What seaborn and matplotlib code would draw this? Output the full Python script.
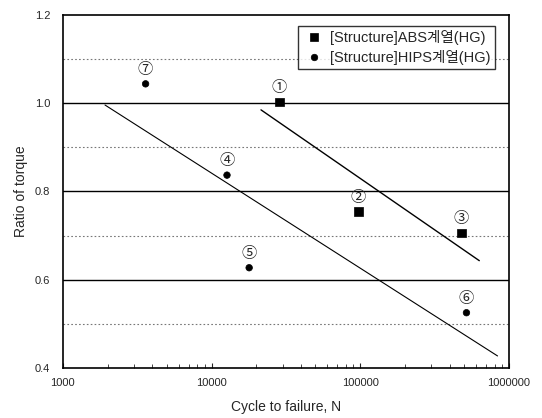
import pandas as pd
import matplotlib.pyplot as plt
import matplotlib.ticker as mticker
import seaborn as sns
import numpy as np

# data
abs_cycles = [28500, 97000, 480000]
abs_ratio = [1.003, 0.754, 0.706]
abs_tags = ["①", "②", "③"]

hips_cycles = [12700, 17900, 518000, 3600]
hips_ratio = [0.837, 0.627, 0.525, 1.044]
hips_tags = ["④", "⑤", "⑥", "⑦"]

# fitted trend lines (end points)
abs_fit_x = [21500, 632000]
abs_fit_y = [0.985, 0.643]
hips_fit_x = [1920, 838000]
hips_fit_y = [0.996, 0.427]

abs_name = "[Structure]ABS계열(HG)"
hips_name = "[Structure]HIPS계열(HG)"

sns.set_style("ticks")
plt.rcParams['font.family'] = ['Liberation Sans', 'Noto Sans CJK KR', 'DejaVu Sans']

df = pd.DataFrame({
    "cycles": abs_cycles + hips_cycles,
    "ratio": abs_ratio + hips_ratio,
    "series": [abs_name] * len(abs_cycles) + [hips_name] * len(hips_cycles),
})

fig = plt.figure(figsize=(5.42, 4.18), dpi=100)
ax = fig.add_axes([0.116, 0.12, 0.823, 0.844])

# grid lines
for y in [0.6, 0.8, 1.0]:
    ax.axhline(y, color="black", lw=1.0, zorder=0)
for y in [0.5, 0.7, 0.9, 1.1]:
    ax.axhline(y, color="#777777", lw=0.8, ls=(0, (1.5, 2)), zorder=0)

sns.lineplot(x=abs_fit_x, y=abs_fit_y, color="black", lw=1.0, ax=ax)
sns.lineplot(x=hips_fit_x, y=hips_fit_y, color="black", lw=0.8, ax=ax)

sns.scatterplot(data=df, x="cycles", y="ratio", hue="series", style="series",
                markers={abs_name: "s", hips_name: "o"},
                palette={abs_name: "black", hips_name: "black"},
                size="series", sizes={abs_name: 40, hips_name: 22},
                edgecolor="black", linewidth=0.5, ax=ax, zorder=3)

for x, y, t in zip(abs_cycles + hips_cycles, abs_ratio + hips_ratio, abs_tags + hips_tags):
    ax.annotate(t, (x, y), xytext=(0, 5), textcoords="offset points",
                ha="center", va="bottom", fontsize=11)

ax.set_xscale("log")
ax.set_xlim(1000, 1000000)
ax.set_ylim(0.4, 1.2)
ax.set_yticks([0.4, 0.6, 0.8, 1.0, 1.2])
ax.yaxis.set_major_formatter(mticker.FormatStrFormatter("%.1f"))
ax.xaxis.set_major_formatter(mticker.FuncFormatter(lambda v, p: f"{int(v)}"))
ax.xaxis.set_minor_locator(mticker.LogLocator(base=10, subs=np.arange(2, 10)))
ax.tick_params(axis="x", which="both", direction="in", top=False, pad=7)
ax.tick_params(axis="x", which="minor", length=3)
ax.tick_params(axis="y", direction="in", length=0, pad=9)
ax.tick_params(labelsize=8)
for s in ax.spines.values():
    s.set_color("black")
    s.set_linewidth(1.2)
    s.set_visible(True)

ax.set_xlabel("Cycle to failure, N", fontsize=10, labelpad=9)
ax.set_ylabel("Ratio of torque", fontsize=10, labelpad=5)

handles, labels = ax.get_legend_handles_labels()
leg = ax.legend(handles, labels, loc="upper right", bbox_to_anchor=(0.985, 0.99),
                fontsize=10.5, frameon=True, fancybox=False, edgecolor="black",
                borderpad=0.3, handletextpad=0.3, labelspacing=0.3,
                handlelength=1.6)
leg.get_frame().set_linewidth(1.0)

fig.savefig("out.png", dpi=100)
